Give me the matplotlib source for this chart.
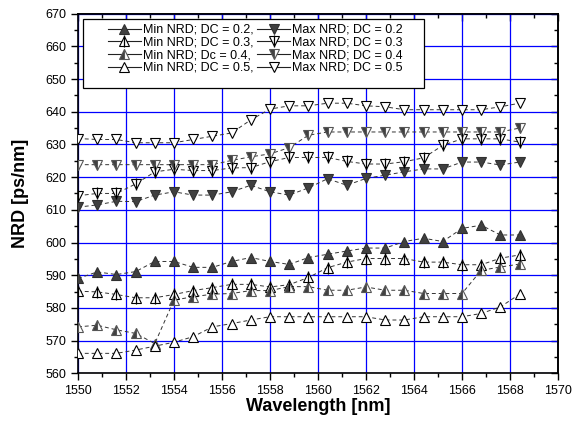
import matplotlib
matplotlib.use('Agg')
import matplotlib.pyplot as plt
from matplotlib.lines import Line2D
from matplotlib.patches import Rectangle
from matplotlib.ticker import MultipleLocator

plt.rcParams['font.family'] = ['Liberation Sans', 'DejaVu Sans']

wavelength = [1550.0, 1550.8, 1551.6, 1552.4, 1553.2, 1554.0, 1554.8, 1555.6,
              1556.4, 1557.2, 1558.0, 1558.8, 1559.6, 1560.4, 1561.2, 1562.0,
              1562.8, 1563.6, 1564.4, 1565.2, 1566.0, 1566.8, 1567.6, 1568.4]

min_02 = [589.0, 591.0, 590.2, 591.1, 594.2, 594.2, 592.4, 592.4, 594.2, 595.4, 594.2, 593.3,
          595.4, 596.4, 597.4, 598.3, 598.3, 600.3, 601.3, 600.3, 604.3, 605.3, 602.3, 602.3]
min_03 = [585.1, 584.9, 584.1, 583.1, 583.1, 584.1, 585.3, 586.2, 587.2, 587.2, 586.4, 587.1,
          589.3, 592.3, 594.0, 595.1, 595.1, 595.1, 594.0, 594.0, 593.2, 593.2, 595.2, 596.2]
min_04 = [574.2, 574.7, 573.3, 572.2, 569.1, 582.4, 583.4, 584.2, 584.4, 585.3, 585.3, 586.5,
          586.5, 585.4, 585.4, 586.4, 585.4, 585.4, 584.4, 584.4, 584.4, 591.5, 592.5, 593.4]
min_05 = [566.1, 566.1, 566.1, 567.1, 568.3, 569.5, 571.2, 574.2, 575.2, 576.3, 577.3, 577.3,
          577.3, 577.3, 577.3, 577.3, 576.3, 576.3, 577.3, 577.3, 577.3, 578.3, 580.3, 584.2]
max_02 = [610.8, 611.5, 612.6, 612.5, 614.5, 615.5, 614.5, 614.5, 615.5, 617.5, 615.5, 614.5,
          616.7, 619.5, 617.5, 619.6, 620.6, 621.6, 622.5, 622.5, 624.6, 624.6, 623.7, 624.6]
max_03 = [614.3, 615.0, 615.0, 617.9, 621.6, 622.4, 622.0, 622.0, 622.8, 622.9, 624.7, 626.0,
          626.0, 626.0, 624.8, 624.0, 624.0, 624.7, 625.9, 629.7, 631.7, 631.7, 631.7, 630.7]
max_04 = [623.8, 623.8, 623.8, 623.8, 623.8, 623.8, 623.8, 623.8, 625.1, 626.2, 627.1, 629.0,
          632.8, 633.8, 633.8, 633.8, 633.8, 633.8, 633.8, 633.8, 633.8, 633.8, 633.8, 635.0]
max_05 = [631.8, 631.5, 631.5, 630.5, 630.5, 630.5, 631.5, 632.5, 633.5, 637.5, 640.8, 641.8,
          641.8, 642.6, 642.6, 641.8, 641.5, 640.6, 640.6, 640.6, 640.6, 640.6, 641.5, 642.6]

dark = '#404040'
ms = 6.8

# (values, marker, fill, cross, label)
series = [
    (min_02, '^', 'full', False, 'Min NRD; DC = 0.2,'),
    (min_03, '^', 'none', True, 'Min NRD; DC = 0.3,'),
    (min_04, '^', 'left', False, 'Min NRD; Dc = 0.4,'),
    (min_05, '^', 'none', False, 'Min NRD; DC = 0.5,'),
    (max_02, 'v', 'full', False, 'Max NRD; DC = 0.2'),
    (max_03, 'v', 'none', True, 'Max NRD; DC = 0.3'),
    (max_04, 'v', 'left', False, 'Max NRD; DC = 0.4'),
    (max_05, 'v', 'none', False, 'Max NRD; DC = 0.5'),
]


def marker_style(marker, fill):
    if fill == 'full':
        return dict(marker=marker, markerfacecolor=dark, markeredgecolor='#303030',
                    fillstyle='full')
    if fill == 'left':
        return dict(marker=marker, markerfacecolor=dark, markerfacecoloralt='white',
                    markeredgecolor='#555555', fillstyle='left')
    return dict(marker=marker, markerfacecolor='white', markeredgecolor='black',
                fillstyle='full')


fig = plt.figure(figsize=(5.83, 4.32), dpi=100)
ax = fig.add_axes([78 / 583, (432 - 373.3) / 432, 480 / 583, 359.7 / 432])

handles = []
labels = []
for vals, mk, fill, cross, lab in series:
    ax.plot(wavelength, vals, color='#333333', lw=0.7, ls=(0, (4, 3)), zorder=2)
    ax.plot(wavelength, vals, ls='none', markersize=ms, markeredgewidth=0.8,
            zorder=3, **marker_style(mk, fill))
    h = Line2D([], [], color='#222222', lw=0.8, markersize=ms, markeredgewidth=0.8,
               **marker_style(mk, fill))
    if cross:
        ax.plot(wavelength, vals, ls='none', marker='|', markersize=8.5,
                markeredgewidth=0.9, color='black', zorder=4)
        h = (h, Line2D([], [], ls='none', marker='|', markersize=8.5,
                       markeredgewidth=0.9, color='black'))
    handles.append(h)
    labels.append(lab)

ax.set_xlim(1550, 1570)
ax.set_ylim(560, 670)
ax.xaxis.set_major_locator(MultipleLocator(2))
ax.xaxis.set_minor_locator(MultipleLocator(1))
ax.yaxis.set_major_locator(MultipleLocator(10))
ax.yaxis.set_minor_locator(MultipleLocator(5))
ax.grid(True, which='major', color='#0000ff', lw=0.9, zorder=1)
ax.set_axisbelow(True)

for sp in ax.spines.values():
    sp.set_linewidth(1.2)
ax.tick_params(which='both', direction='out', labelsize=9, width=1)
ax.tick_params(which='major', length=5)
ax.tick_params(which='minor', length=3)

# mirrored axes with inward ticks, no labels
top = ax.secondary_xaxis('top')
top.xaxis.set_major_locator(MultipleLocator(2))
top.xaxis.set_minor_locator(MultipleLocator(1))
top.tick_params(which='both', direction='in', labeltop=False, width=1)
top.tick_params(which='major', length=5)
top.tick_params(which='minor', length=3)
right = ax.secondary_yaxis('right')
right.yaxis.set_major_locator(MultipleLocator(10))
right.yaxis.set_minor_locator(MultipleLocator(5))
right.tick_params(which='both', direction='in', labelright=False, width=1)
right.tick_params(which='major', length=5)
right.tick_params(which='minor', length=3)
for sec in (top, right):
    for sp in sec.spines.values():
        sp.set_linewidth(1.2)

ax.set_xlabel('Wavelength [nm]', fontsize=13, fontweight='bold', labelpad=1)
ax.set_ylabel('NRD [ps/nm]', fontsize=13, fontweight='bold', labelpad=12)

leg = ax.legend(handles, labels, ncol=2, loc='upper left', frameon=False,
                bbox_to_anchor=((108 - 78) / 480, (373.3 - 24) / 359.7),
                borderaxespad=0, borderpad=0, fontsize=9, handlelength=2.6,
                handletextpad=0.2, columnspacing=0.3, labelspacing=0.05)
ax.add_patch(Rectangle(((83 - 78) / 480, (373.3 - 88) / 359.7), 341 / 480, 69 / 359.7,
                       transform=ax.transAxes, facecolor='white', edgecolor='black',
                       lw=0.9, zorder=5))
leg.set_zorder(6)

fig.savefig('out.png', dpi=100)
